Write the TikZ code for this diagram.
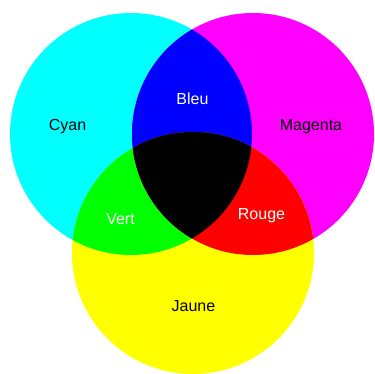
\documentclass[tikz,border=0pt]{standalone}
\usepackage{fontspec}
\setmainfont{Liberation Sans}
\usepackage{xcolor}
\usepackage{tikz}

\definecolor{cyanrgb}{RGB}{0,255,255}
\definecolor{magentargb}{RGB}{255,0,255}
\definecolor{yellowrgb}{RGB}{255,255,0}
\definecolor{bluergb}{RGB}{0,0,255}
\definecolor{greenrgb}{RGB}{0,255,0}
\definecolor{redrgb}{RGB}{255,0,0}

\begin{document}
\begin{tikzpicture}[
  x=1pt, y=-1pt,
  disc/.style={radius=121pt},
  lbl/.style={anchor=base, font=\fontsize{16}{18}\selectfont},
  dark/.style={lbl, text=black},
  light/.style={lbl, text=white}
]
\useasboundingbox (0,0) rectangle (374,374);
\coordinate (cy) at (131,134);
\coordinate (mg) at (253,134);
\coordinate (ye) at (193,253);
% primary discs
\fill[cyanrgb]    (cy) circle[disc];
\fill[magentargb] (mg) circle[disc];
\fill[yellowrgb]  (ye) circle[disc];
% overlaps
\begin{scope}
  \clip (cy) circle[disc];
  \fill[bluergb] (mg) circle[disc];
  \fill[greenrgb] (ye) circle[disc];
  \clip (mg) circle[disc];
  \fill[black] (ye) circle[disc];
\end{scope}
\begin{scope}
  \clip (mg) circle[disc];
  \clip (ye) circle[disc];
  \fill[redrgb] (mg) circle[disc];
  \clip (cy) circle[disc];
  \fill[black] (ye) circle[disc];
\end{scope}
% labels
\node[dark]  (tcy) at (67.5,130.5) {Cyan};
\node[dark]  (tmg) at (311,131)    {Magenta};
\node[light] (tbl) at (192.5,104.5){Bleu};
\node[light] (tvt) at (120.5,224)  {Vert};
\node[light] (trg) at (261.5,219.5){Rouge};
\node[dark]  (tye) at (193.5,311)  {Jaune};
\end{tikzpicture}
\end{document}
